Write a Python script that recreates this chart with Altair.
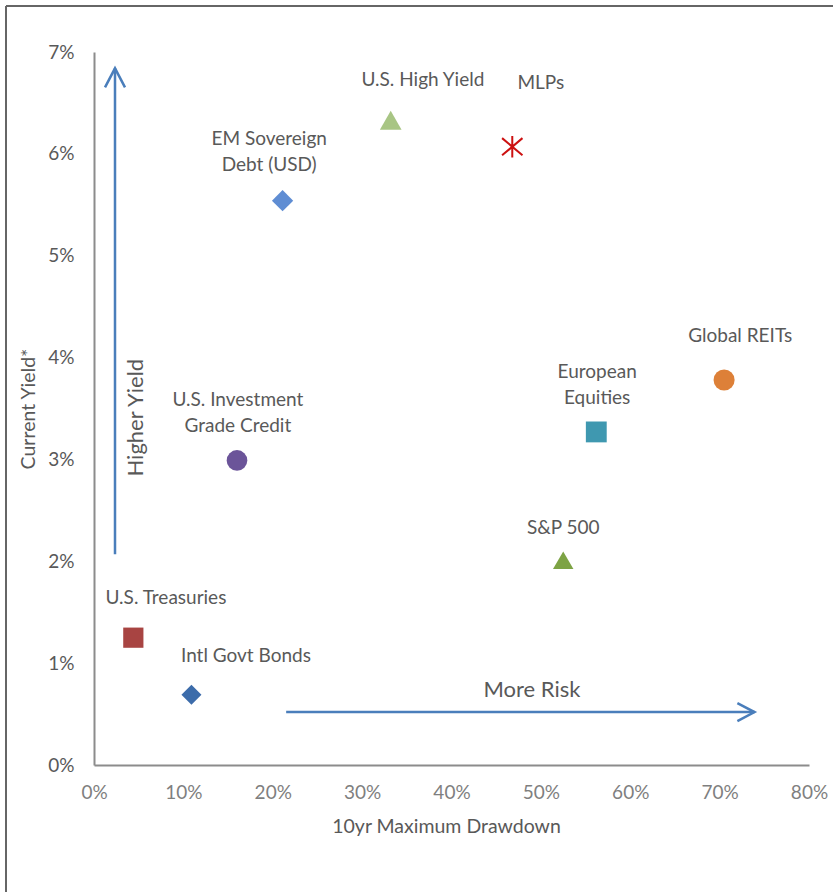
import altair as alt
import pandas as pd

# ---- data ----
names = ["U.S. High Yield", "MLPs", "EM Sovereign Debt (USD)", "Global REITs",
         "European Equities", "U.S. Investment Grade Credit", "S&P 500",
         "U.S. Treasuries", "Intl Govt Bonds"]
drawdown = [33.2, 46.8, 21.1, 70.5, 56.2, 16.0, 52.5, 4.4, 10.9]      # % 10yr max drawdown
cur_yield = [6.33, 6.07, 5.54, 3.78, 3.27, 2.99, 2.01, 1.25, 0.69]      # % current yield

label_text = ["U.S. High Yield", "MLPs", "EM Sovereign\nDebt (USD)", "Global REITs",
              "European\nEquities", "U.S. Investment\nGrade Credit", "S&P 500",
              "U.S. Treasuries", "Intl Govt Bonds"]
label_x = [36.8, 50.0, 19.6, 72.3, 56.3, 16.1, 52.5, 8.05, 17.0]
label_y = [6.73, 6.70, 6.15, 4.21, 3.86, 3.58, 2.33, 1.64, 1.07]

x_ticks = [0, 10, 20, 30, 40, 50, 60, 70, 80]
y_ticks = [0, 1, 2, 3, 4, 5, 6, 7]

# annotation arrows (data units)
arrow_names = ["Higher Yield", "More Risk"]
arrow_x = [2.35, 21.5]
arrow_x2 = [2.35, 73.9]
arrow_y = [2.07, 0.52]
arrow_y2 = [6.84, 0.52]
arrow_text_x = [4.70, 49.0]
arrow_text_y = [3.41, 0.735]

# ---- styles ----
FONT = "Lato"
TXT = "#595959"
ARROW = "#4A7EBB"
colors = ["#A8C584", "#CC1111", "#5F8DD3", "#DD8038", "#3F98B0", "#6B5499",
          "#7DA344", "#A84442", "#3C6CAA"]
STAR = "M0,-1L0,1M-0.95,-0.8L0.95,0.8M-0.95,0.8L0.95,-0.8"
shapes = ["triangle-up", STAR, "diamond", "circle", "square", "circle",
          "triangle-up", "square", "diamond"]
sizes = [470, 400, 420, 420, 420, 420, 470, 400, 440]

df = pd.DataFrame({"name": names, "x": drawdown, "y": cur_yield})
lab = pd.DataFrame({"name": names, "label": label_text, "lx": label_x, "ly": label_y})
arr = pd.DataFrame({"name": arrow_names, "x": arrow_x, "x2": arrow_x2,
                    "y": arrow_y, "y2": arrow_y2,
                    "tx": arrow_text_x, "ty": arrow_text_y})

W, H = 715, 713
xs = alt.Scale(domain=[0, 80], nice=False)
ys = alt.Scale(domain=[0, 7], nice=False)

x_axis = alt.Axis(values=x_ticks, labelExpr="datum.value + '%'", grid=False, ticks=False,
                  labelFlush=False, labelOverlap=False,
                  domainColor="#8C8C8C", domainWidth=2, labelColor="#7F7F7F",
                  labelFont=FONT, labelFontSize=19, labelPadding=18,
                  title="10yr Maximum Drawdown", titleFont=FONT, titleFontSize=19.5,
                  titleFontWeight="normal", titleColor=TXT, titleY=61, titleX=352,
                  titleBaseline="middle", titleAlign="center")
y_axis = alt.Axis(values=y_ticks, labelExpr="datum.value + '%'", grid=False, ticks=False,
                  labelFlush=False, labelOverlap=False,
                  domainColor="#8C8C8C", domainWidth=2, labelColor=TXT,
                  labelFont=FONT, labelFontSize=19, labelPadding=20,
                  title="Current Yield*", titleFont=FONT, titleFontSize=19.5,
                  titleFontWeight="normal", titleColor=TXT, titleX=-66,
                  titleY=H / 2, titleAngle=-90, titleBaseline="middle",
                  titleAlign="center")

color_sc = alt.Scale(domain=names, range=colors)
shape_sc = alt.Scale(domain=names, range=shapes)
size_sc = alt.Scale(domain=names, range=sizes)

base = alt.Chart(df)

filled = base.transform_filter(alt.datum.name != "MLPs").mark_point(
    filled=True, opacity=1).encode(
    x=alt.X("x:Q", scale=xs, axis=x_axis),
    y=alt.Y("y:Q", scale=ys, axis=y_axis),
    color=alt.Color("name:N", scale=color_sc, legend=None),
    shape=alt.Shape("name:N", scale=shape_sc, legend=None),
    size=alt.Size("name:N", scale=size_sc, legend=None),
)

star = base.transform_filter(alt.datum.name == "MLPs").mark_point(
    filled=False, strokeWidth=2, opacity=1).encode(
    x=alt.X("x:Q", scale=xs),
    y=alt.Y("y:Q", scale=ys),
    stroke=alt.Stroke("name:N", scale=color_sc, legend=None),
    shape=alt.Shape("name:N", scale=shape_sc, legend=None),
    size=alt.Size("name:N", scale=size_sc, legend=None),
)

labels = alt.Chart(lab).mark_text(font=FONT, fontSize=19, color=TXT, lineBreak="\n",
                                  lineHeight=26, align="center", baseline="middle").encode(
    x=alt.X("lx:Q", scale=xs), y=alt.Y("ly:Q", scale=ys), text="label:N")

arrow_lines = alt.Chart(arr).mark_rule(color=ARROW, strokeWidth=2.5).encode(
    x=alt.X("x:Q", scale=xs), x2="x2:Q", y=alt.Y("y:Q", scale=ys), y2="y2:Q")

head_up = alt.Chart(arr).transform_filter(alt.datum.name == "Higher Yield").mark_point(
    shape="M-1,1.9L0,0L1,1.9", filled=False, stroke=ARROW, strokeWidth=2.5,
    size=400, opacity=1).encode(
    x=alt.X("x2:Q", scale=xs), y=alt.Y("y2:Q", scale=ys))

head_right = alt.Chart(arr).transform_filter(alt.datum.name == "More Risk").mark_point(
    shape="M-1.9,-1L0,0L-1.9,1", filled=False, stroke=ARROW, strokeWidth=2.5,
    size=324, opacity=1).encode(
    x=alt.X("x2:Q", scale=xs), y=alt.Y("y2:Q", scale=ys))

arrow_txt_v = alt.Chart(arr).transform_filter(alt.datum.name == "Higher Yield").mark_text(
    font=FONT, fontSize=22, color=TXT, angle=270, align="center", baseline="middle").encode(
    x=alt.X("tx:Q", scale=xs), y=alt.Y("ty:Q", scale=ys), text="name:N")

arrow_txt_h = alt.Chart(arr).transform_filter(alt.datum.name == "More Risk").mark_text(
    font=FONT, fontSize=22, color=TXT, align="center", baseline="middle").encode(
    x=alt.X("tx:Q", scale=xs), y=alt.Y("ty:Q", scale=ys), text="name:N")

# outer frame (decorative border)
frame_top = alt.Chart(df).mark_rule(color="#666666", strokeWidth=2).encode(
    x=alt.value(-88), x2=alt.value(760), y=alt.value(-46))
frame_left = alt.Chart(df).mark_rule(color="#666666", strokeWidth=2).encode(
    x=alt.value(-88), y=alt.value(-46), y2=alt.value(860))

chart = alt.layer(
    frame_top, frame_left, arrow_lines, head_up, head_right, arrow_txt_v, arrow_txt_h,
    filled, star, labels
).properties(
    width=W, height=H,
    padding={"left": 94, "top": 52, "right": 24, "bottom": 127},
    autosize=alt.AutoSizeParams(type="none"),
    background="white",
).configure_view(stroke=None).resolve_scale(color="independent")

chart.save("out.html", embed_options={"renderer": "svg", "actions": False})
